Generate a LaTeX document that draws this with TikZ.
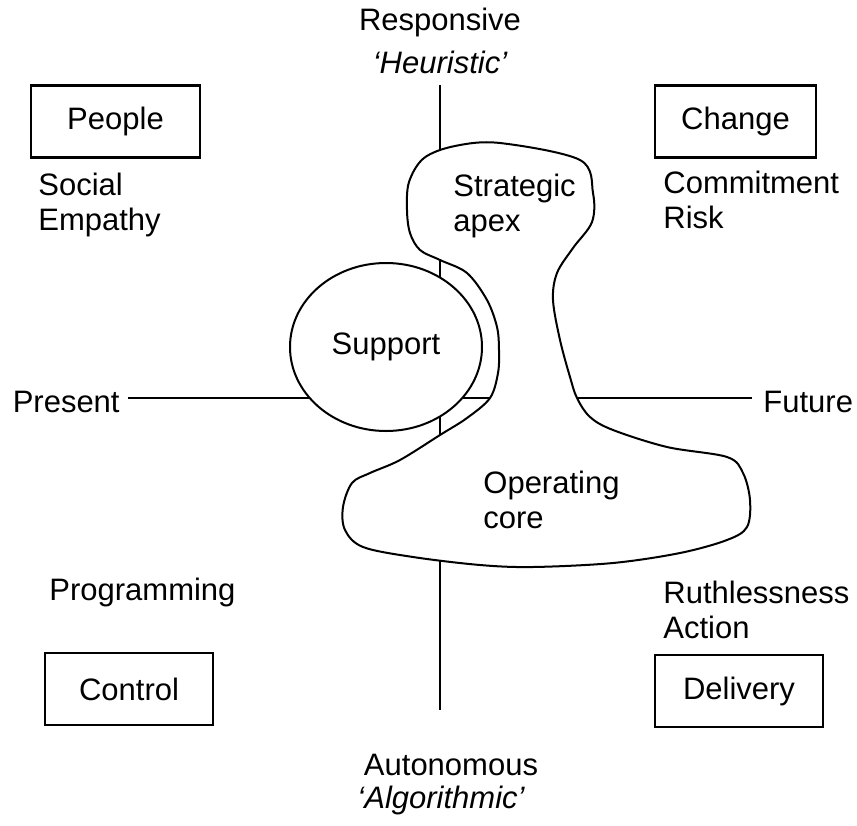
\documentclass[tikz,border=0pt]{standalone}
\usepackage{fontspec}
\setmainfont{Liberation Sans}
\usetikzlibrary{shapes.geometric}

\begin{document}
\begin{tikzpicture}[
    x=0.5pt, y=-0.5pt,
    every node/.style={inner sep=0pt, font=\fontsize{15.5}{17.5}\selectfont},
    quadbox/.style={draw, line width=1.2pt, minimum width=84pt, minimum height=36pt},
    listtext/.style={anchor=west, align=left},
    axis/.style={line width=0.9pt},
    part/.style={draw, line width=1pt, fill=white}]

\useasboundingbox (0,0) rectangle (857,825);

\coordinate (axisN) at (440,85);
\coordinate (axisS) at (440,710);
\coordinate (axisW) at (128,398);
\coordinate (axisE) at (752,398);
\draw[axis] (axisN) -- (axisS);
\draw[axis] (axisW) -- (axisE);

\draw[part] plot[smooth cycle, tension=0.55] coordinates {
    (500,143) (580,160) (593,193) (592,222) (573,248) (557,273) (553,300)
    (560,340) (570,377) (577,398) (590,417) (613,430) (667,447) (727,457)
    (743,473) (750,500) (747,527) (727,540) (680,553) (613,563) (533,567)
    (480,565) (413,557) (363,547) (345,530) (343,507) (352,483) (370,473)
    (400,460) (440,435) (467,418) (490,398) (498,373) (499,350) (497,327)
    (487,300) (467,273) (440,260) (420,250) (410,233) (407,210) (409,182)
    (424,158) (455,146)};
\node[part, ellipse, minimum width=96pt, minimum height=84pt] (support) at (386,347) {Support};

\node[listtext] (apex) at (453,205.5) {Strategic\\apex};
\node[listtext] (core) at (483,499.5) {Operating\\core};

\node (responsive) at (440,22) {Responsive};
\node (heuristic) at (440,62) {\itshape ‘Heuristic’};
\node (autonomous) at (451,765) {Autonomous};
\node (algorithmic) at (441,800) {\itshape ‘Algorithmic’};
\node[anchor=east] (present) at (120,402) {Present};
\node[anchor=west] (future) at (763,402) {Future};

\node[quadbox, minimum width=84.5pt] (people) at (115.5,121.5) {People};
\node[quadbox, minimum width=80.5pt] (change) at (735.5,121.5) {Change};
\node[quadbox] (control) at (129,689) {Control};
\node[quadbox] (delivery) at (739,691) {Delivery};

\node[listtext] (social) at (38,204.5) {Social\\Empathy};
\node[listtext] (commitment) at (663,200) {Commitment\\Risk};
\node[listtext] (programming) at (49,592) {Programming};
\node[listtext] (ruthless) at (663,610) {Ruthlessness\\Action};

\end{tikzpicture}
\end{document}
